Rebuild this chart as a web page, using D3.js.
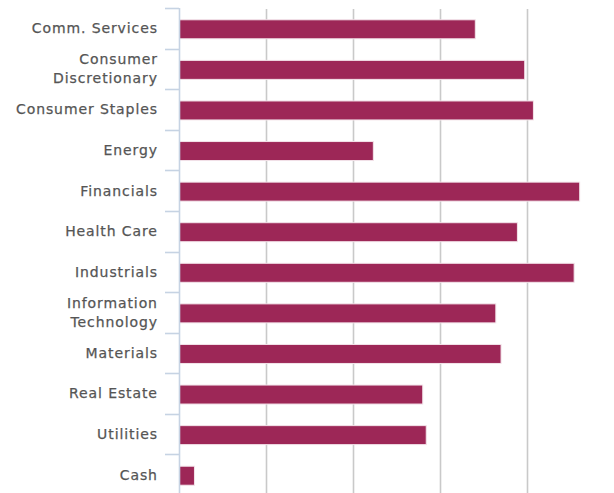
<!DOCTYPE html>
<html>
<head>
<meta charset="utf-8">
<script src="https://cdn.jsdelivr.net/npm/d3@7/dist/d3.min.js"></script>
<style>
  html, body { margin: 0; padding: 0; background: #ffffff; }
  svg { display: block; }
</style>
</head>
<body>
<svg id="chart" width="614" height="493"></svg>
<script>
// Sector weights (%)
const categories = [
  "Comm. Services", "Consumer Discretionary", "Consumer Staples", "Energy",
  "Financials", "Health Care", "Industrials", "Information Technology",
  "Materials", "Real Estate", "Utilities", "Cash"
];
const weights = [8.50, 9.92, 10.17, 5.57, 11.50, 9.71, 11.34, 9.09, 9.24, 6.99, 7.09, 0.43];
const gridTicks = [0, 2.5, 5, 7.5, 10];
// Labels that wrap onto two lines
const labelLines = {
  "Consumer Discretionary": ["Consumer", "Discretionary"],
  "Information Technology": ["Information", "Technology"]
};

const svg = d3.select("#chart");
const plotLeft = 179, plotTop = 9, plotBottom = 496;

const x = d3.scaleLinear().domain([0, 12.5]).range([plotLeft, 614]);
const y = d3.scaleBand().domain(categories).range([plotTop, plotBottom]).paddingInner(0).paddingOuter(0);

// Vertical grid lines
svg.append("g")
  .selectAll("line")
  .data(gridTicks.slice(1))
  .join("line")
  .attr("x1", d => Math.round(x(d)) + 0.5)
  .attr("x2", d => Math.round(x(d)) + 0.5)
  .attr("y1", plotTop)
  .attr("y2", 493)
  .attr("stroke", "#c9c9c9")
  .attr("stroke-width", 1.6);

// Bars
const barH = 19;
svg.append("g")
  .selectAll("rect")
  .data(categories.map((c, i) => ({ c, v: weights[i] })))
  .join("rect")
  .attr("x", x(0) + 0.5)
  .attr("y", d => y(d.c) + y.bandwidth() / 2 - barH / 2)
  .attr("width", d => x(d.v) - x(0))
  .attr("height", barH)
  .attr("fill", "#9d2757")
  .attr("stroke", "#f3e4ea")
  .attr("stroke-width", 1);

// Category axis line and ticks
const axisColor = "#c6d3e3";
svg.append("line")
  .attr("x1", plotLeft + 0.5).attr("x2", plotLeft + 0.5)
  .attr("y1", plotTop - 1).attr("y2", 493)
  .attr("stroke", axisColor).attr("stroke-width", 1.6);

const boundaries = categories.map(c => y(c));
svg.append("g")
  .selectAll("line")
  .data(boundaries)
  .join("line")
  .attr("x1", 165).attr("x2", plotLeft)
  .attr("y1", d => Math.round(d) - 0.5)
  .attr("y2", d => Math.round(d) - 0.5)
  .attr("stroke", axisColor).attr("stroke-width", 1.6);

// Category labels
const spacing = 0.9;
const labels = svg.append("g")
  .attr("font-family", "'DejaVu Sans', Verdana, sans-serif")
  .attr("font-size", 14)
  .attr("fill", "#555555")
  .attr("stroke", "#555555")
  .attr("stroke-width", 0.25)
  .attr("letter-spacing", spacing)
  .attr("text-anchor", "end");

const lh = 19;
categories.forEach(c => {
  const lines = labelLines[c] || [c];
  const cy = y(c) + y.bandwidth() / 2;
  const firstBaseline = cy + 3.9 - (lines.length - 1) * lh / 2;
  const t = labels.append("text");
  lines.forEach((ln, i) => {
    t.append("tspan")
      .attr("x", 157 + spacing)
      .attr("y", firstBaseline + i * lh)
      .text(ln);
  });
});
</script>
</body>
</html>
